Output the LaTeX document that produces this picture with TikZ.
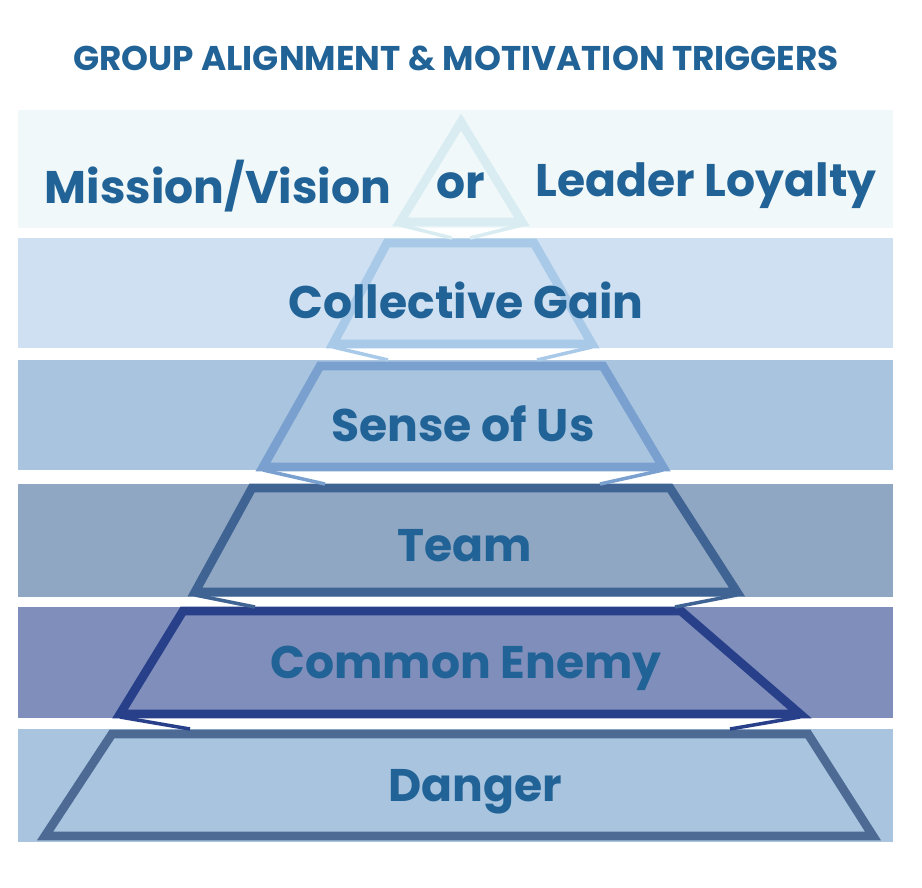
\documentclass[tikz,border=0pt]{standalone}
\usepackage{fontspec}
\setmainfont{Poppins}
\definecolor{txtblue}{HTML}{216396}
\definecolor{bandA}{HTML}{F0F8FA}
\definecolor{bandB}{HTML}{CEE0F1}
\definecolor{bandC}{HTML}{A9C4DF}
\definecolor{bandD}{HTML}{8FA7C3}
\definecolor{bandE}{HTML}{7F8EBA}
\definecolor{bandF}{HTML}{A9C4DF}
\definecolor{edgeA}{HTML}{D8ECF2}
\definecolor{edgeB}{HTML}{A8CAE8}
\definecolor{edgeC}{HTML}{79A0CF}
\definecolor{edgeD}{HTML}{3F6392}
\definecolor{edgeE}{HTML}{283F8A}
\definecolor{edgeF}{HTML}{4D6A95}
\begin{document}
\begin{tikzpicture}[x=0.02cm, y=-0.02cm,
    tier/.style = {line width=5pt, line join=miter},
    link/.style = {line width=2pt},
    label/.style = {text=txtblue, font=\bfseries\fontsize{26}{30}\selectfont}]
\useasboundingbox (0,0) rectangle (922,887);
\node[text=txtblue, font=\bfseries\fontsize{19.5}{22}\selectfont] (title) at (456,58) {GROUP ALIGNMENT \& MOTIVATION TRIGGERS};
% bands
\fill[bandA] (18,110) rectangle (893,228);
\fill[bandB] (18,238) rectangle (893,348);
\fill[bandC] (18,360) rectangle (893,470);
\fill[bandD] (18,484) rectangle (893,597);
\fill[bandE] (18,607) rectangle (893,718);
\fill[bandF] (18,729) rectangle (893,842);
% tiers
\draw[tier, edgeA] (461,122) -- (522,222) -- (400,222) -- cycle;
\draw[tier, edgeB] (387,243) -- (534,243) -- (592,344) -- (333,344) -- cycle;
\draw[tier, edgeC] (320,366) -- (603,366) -- (663,467) -- (263,467) -- cycle;
\draw[tier, edgeD] (252,488) -- (670,488) -- (737,592) -- (195,592) -- cycle;
\draw[tier, edgeE] (183,611) -- (681,611) -- (800,714) -- (120,714) -- cycle;
\draw[tier, edgeF] (112,734) -- (808,734) -- (873,836) -- (45,836) -- cycle;
% links
\foreach \xa/\ya/\xb/\yb/\c in {400/225/452/238/edgeA, 522/225/470/238/edgeA,
    333/347/388/360/edgeB, 592/347/537/360/edgeB,
    263/470/325/484/edgeC, 663/470/600/484/edgeC,
    195/595/255/607/edgeD, 737/595/675/607/edgeD,
    120/717/190/729/edgeE, 800/717/730/729/edgeE}
    \draw[link, \c] (\xa,\ya) -- (\xb,\yb);
% labels
\node[label] (mission) at (218,186) {Mission/Vision};
\node[label] (or) at (461,186) {or};
\node[label] (loyalty) at (706,186) {Leader Loyalty};
\node[label] (gain) at (466,300) {Collective Gain};
\node[label] (us) at (463,424) {Sense of Us};
\node[label] (team) at (465,546) {Team};
\node[label] (enemy) at (466,668) {Common Enemy};
\node[label] (danger) at (475,792) {Danger};
\end{tikzpicture}
\end{document}
